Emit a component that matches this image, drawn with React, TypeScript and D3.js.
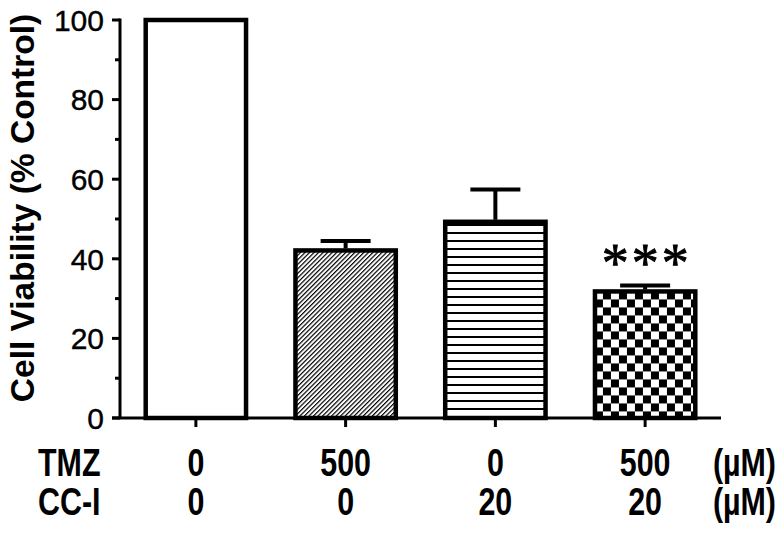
import React from "react";
import * as d3 from "d3";

// values
const groups = ["ctrl", "tmz", "cci", "combo"];
const tmzDose = ["0", "500", "0", "500"];
const cciDose = ["0", "0", "20", "20"];
const viability = [100, 42.1, 49.3, 31.8];
const sem = [0, 2.4, 8.1, 1.5];
const fills = ["white", "url(#hatch)", "url(#hlines)", "url(#checker)"];
const yTicks = [0, 20, 40, 60, 80, 100];
const yMinor = [10, 30, 50, 70, 90];
const stars = ["*", "*", "*"];

const App = () => {
	const width = 780;
	const height = 538;
	const axisX = 120;
	const x = d3
		.scaleBand()
		.domain(groups)
		.range([121, 720])
		.paddingInner(0.33)
		.paddingOuter(0.165);
	const y = d3.scaleLinear().domain([0, 100]).range([418, 20]);
	const line = (a, b) => d3.line()([a, b]);
	const capHalf = 25;
	const sans = "'Liberation Sans', Arial, sans-serif";

	return (
		<svg
			width={width}
			height={height}
			style={{ position: "absolute", left: 0, top: 0, background: "white" }}
		>
			<defs>
				<pattern
					id="hatch"
					patternUnits="userSpaceOnUse"
					width={3.2}
					height={3.2}
					patternTransform="rotate(45)"
				>
					<rect width={3.2} height={3.2} fill="white" />
					<line x1={0.6} y1={0} x2={0.6} y2={3.2} stroke="black" strokeWidth={1.2} />
				</pattern>
				<pattern id="hlines" patternUnits="userSpaceOnUse" width={8} height={8}>
					<rect width={8} height={8} fill="white" />
					<line x1={0} y1={1} x2={8} y2={1} stroke="black" strokeWidth={2} />
				</pattern>
				<pattern
					id="checker"
					patternUnits="userSpaceOnUse"
					x={x("combo")}
					y={y(viability[3])}
					width={16}
					height={16}
				>
					<rect width={16} height={16} fill="white" />
					<rect x={8} y={0} width={8} height={8} fill="black" />
					<rect x={0} y={8} width={8} height={8} fill="black" />
				</pattern>
			</defs>

			{/* bars */}
			{groups.map((g, i) => (
				<rect
					key={g}
					x={x(g)}
					y={y(viability[i])}
					width={x.bandwidth()}
					height={y(0) - y(viability[i])}
					fill={fills[i]}
					stroke="black"
					strokeWidth={4.5}
				/>
			))}

			{/* error bars, upper only */}
			{groups.map((g, i) => {
				if (!sem[i]) return null;
				const cx = x(g) + x.bandwidth() / 2;
				const top = y(viability[i] + sem[i]);
				return (
					<g key={"err" + g} stroke="black" strokeWidth={4}>
						<path d={line([cx, y(viability[i]) - 2], [cx, top])} />
						<path d={line([cx - capHalf, top], [cx + capHalf, top])} />
					</g>
				);
			})}

			{/* significance */}
			{stars.map((s, k) => (
				<text
					key={"star" + k}
					x={x("combo") + x.bandwidth() / 2 + (k - 1) * 30}
					y={281}
					textAnchor="middle"
					fontFamily="'Liberation Serif', 'Times New Roman', serif"
					fontSize={54}
					stroke="black"
					strokeWidth={0.9}
				>
					{s}
				</text>
			))}

			{/* axes */}
			<g stroke="black" strokeWidth={3}>
				<path d={line([axisX, y(100) - 1.5], [axisX, y(0)])} />
				<path d={line([112, y(0)], [721, y(0)])} />
				{yTicks.map((t) => (
					<path key={"t" + t} d={line([112, y(t)], [axisX, y(t)])} />
				))}
				{yMinor.map((t) => (
					<path key={"m" + t} d={line([115, y(t)], [axisX, y(t)])} />
				))}
				{groups.map((g) => {
					const cx = x(g) + x.bandwidth() / 2;
					return <path key={"xt" + g} d={line([cx, y(0)], [cx, y(0) + 9])} />;
				})}
			</g>
			{yTicks.map((t) => (
				<text
					key={"lab" + t}
					x={104}
					y={y(t)}
					dy="0.36em"
					textAnchor="end"
					fontFamily={sans}
					fontSize={30}
					stroke="black"
					strokeWidth={0.4}
				>
					{t}
				</text>
			))}

			<text
				transform={`translate(34, 208) rotate(-90)`}
				textAnchor="middle"
				fontFamily={sans}
				fontWeight="bold"
				fontSize={33.5}
			>
				Cell Viability (% Control)
			</text>

			{/* dose table under the axis */}
			{[
				{ name: "TMZ", vals: tmzDose, yy: 476 },
				{ name: "CC-I", vals: cciDose, yy: 515 },
			].map((row) => (
				<g key={row.name} fontFamily={sans} fontWeight="bold" fontSize={38}>
					<text transform={`translate(38, ${row.yy}) scale(0.8, 1)`}>{row.name}</text>
					{row.vals.map((v, i) => (
						<text
							key={i}
							textAnchor="middle"
							transform={`translate(${x(groups[i]) + x.bandwidth() / 2}, ${row.yy}) scale(0.8, 1)`}
						>
							{v}
						</text>
					))}
					<text transform={`translate(776, ${row.yy}) scale(0.8, 1)`} textAnchor="end">
						(µM)
					</text>
				</g>
			))}
		</svg>
	);
};

export default App;
